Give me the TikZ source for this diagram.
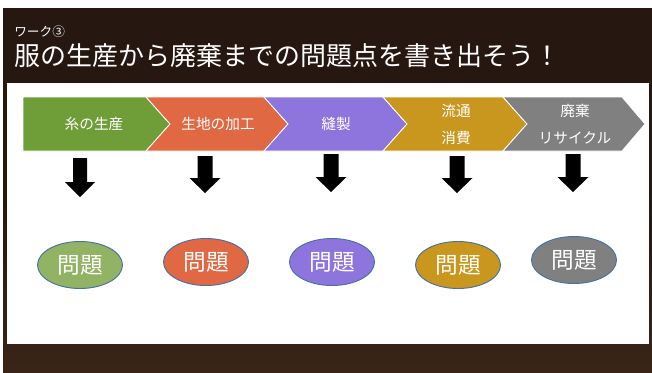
\documentclass[tikz,border=0pt]{standalone}
\usepackage{fontspec}
\newfontfamily\jp{Noto Sans CJK JP}
\usetikzlibrary{shapes.geometric}
\definecolor{wood}{RGB}{38,23,16}
\definecolor{woodlight}{RGB}{58,36,24}
\definecolor{cgreen}{RGB}{111,157,56}
\definecolor{egreen}{RGB}{145,179,99}
\definecolor{corange}{RGB}{224,104,67}
\definecolor{cpurple}{RGB}{142,117,221}
\definecolor{cgold}{RGB}{201,151,30}
\definecolor{cgray}{RGB}{128,128,128}
\definecolor{eborder}{RGB}{68,114,168}
\tikzset{
  chev/.style={draw=white, line width=0.6pt},
  lab/.style={text=white, inner sep=0pt, align=center, font={\jp\fontsize{11}{20}\selectfont}},
  downarrow/.style={fill=black, draw=none},
  prob/.style={ellipse, draw=eborder, line width=0.7pt, minimum width=63.75pt, minimum height=35.25pt, inner sep=0pt, text=white, font={\jp\fontsize{17}{17}\selectfont}},
}
\begin{document}
\begin{tikzpicture}[x=0.75pt, y=-0.75pt]
\useasboundingbox (0,0) rectangle (652,372);
\fill[white] (0,0) rectangle (652,372);
% wood background
\shade[top color=wood, bottom color=woodlight, middle color=wood] (3,8) rectangle (652,372);
% white panel
\fill[white] (7,83) rectangle (649,344);
% title
\node[anchor=west, inner sep=0pt, text=white, font={\jp\fontsize{9.5}{10}\selectfont}] (sub) at (14,32) {ワーク③};
\node[anchor=west, inner sep=0pt, text=white, font={\jp\fontsize{19.5}{20}\selectfont}] (title) at (14,56) {服の生産から廃棄までの問題点を書き出そう！};
% chevrons
\path[chev, fill=cgreen] (23,97) -- (146,97) -- (170,124) -- (146,151) -- (23,151) -- cycle;
\path[chev, fill=corange] (146,97) -- (264,97) -- (288,124) -- (264,151) -- (146,151) -- (170,124) -- cycle;
\path[chev, fill=cpurple] (264,97) -- (383,97) -- (407,124) -- (383,151) -- (264,151) -- (288,124) -- cycle;
\path[chev, fill=cgold] (383,97) -- (503,97) -- (527,124) -- (503,151) -- (383,151) -- (407,124) -- cycle;
\path[chev, fill=cgray] (503,97) -- (622,97) -- (645,124) -- (622,151) -- (503,151) -- (527,124) -- cycle;
% labels
\node[lab] (l1) at (94,124) {糸の生産};
\node[lab] (l2) at (218,124) {生地の加工};
\node[lab] (l3) at (336,124) {縫製};
\node[lab] (l4) at (456,124.5) {流通\\消費};
\node[lab] (l5) at (575,124.5) {廃棄\\リサイクル};
% down arrows
\fill[downarrow] (73,158) -- (87,158) -- (87,182) -- (95,182) -- (80,197) -- (65,182) -- (73,182) -- cycle;
\fill[downarrow] (197.5,156) -- (212.5,156) -- (212.5,178) -- (220.5,178) -- (205,193) -- (189.5,178) -- (197.5,178) -- cycle;
\fill[downarrow] (323.5,154) -- (338.5,154) -- (338.5,177) -- (346.5,177) -- (331,192) -- (315.5,177) -- (323.5,177) -- cycle;
\fill[downarrow] (449.5,156) -- (464.5,156) -- (464.5,178) -- (472.5,178) -- (457,193) -- (441.5,178) -- (449.5,178) -- cycle;
\fill[downarrow] (565.5,154) -- (580.5,154) -- (580.5,177) -- (588.5,177) -- (573,192) -- (557.5,177) -- (565.5,177) -- cycle;
% problem ellipses
\node[prob, fill=egreen] (p1) at (80,265) {問題};
\node[prob, fill=corange] (p2) at (206,262) {問題};
\node[prob, fill=cpurple] (p3) at (332,262) {問題};
\node[prob, fill=cgold] (p4) at (458,265) {問題};
\node[prob, fill=cgray] (p5) at (574,260) {問題};
\end{tikzpicture}
\end{document}
